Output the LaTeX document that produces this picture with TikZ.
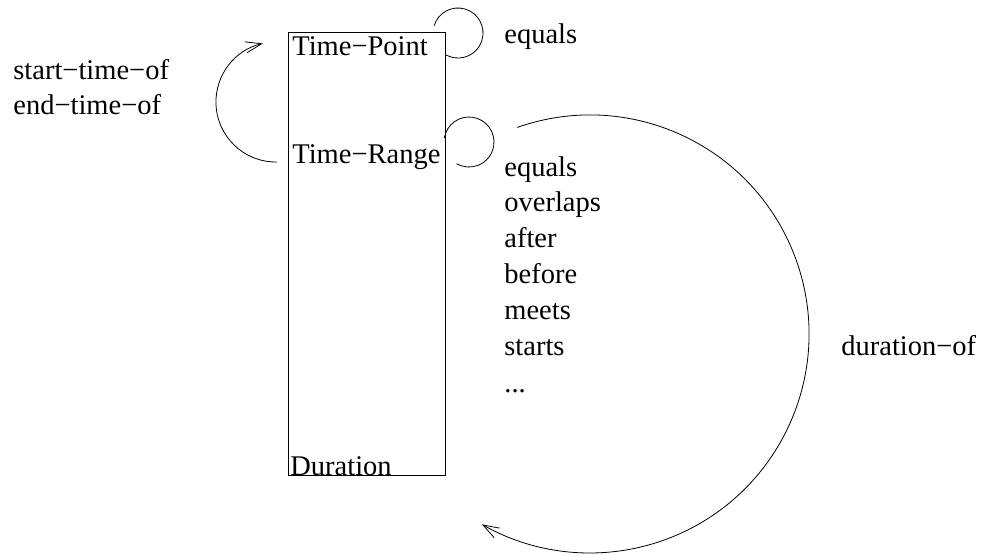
\documentclass[tikz,border=0pt]{standalone}
\usepackage{fontspec}
\setmainfont{Liberation Serif}
\usetikzlibrary{arrows.meta}
\begin{document}
\begin{tikzpicture}[x=1pt, y=-1pt, line width=0.8pt,
    >={Straight Barb[length=16pt,width=11pt]},
    lbl/.style={anchor=base west, inner sep=0pt, font=\fontsize{28.5}{34}\selectfont}]
      \useasboundingbox (0,0) rectangle (982,555);
      \node[draw, inner sep=0pt, minimum width=157, minimum height=443] (box) at (366.5,253.5) {};
      \node[lbl] (tp) at (292,55) {Time−Point};
      \node[lbl] (tr) at (292,163) {Time−Range};
      \node[lbl] (du) at (290,475) {Duration};
      \node[lbl] (eqp) at (504,43) {equals};
      \node[lbl] (st) at (13,79) {start−time−of};
      \node[lbl] (et) at (13,114) {end−time−of};
      \node[lbl] (dof) at (841,355) {duration−of};
      \foreach \w [count=\i from 0] in {equals,overlaps,after,before,meets,starts}
        \node[lbl] (rel\i) at (504,176+35.9*\i) {\w};
      \node[lbl] (more) at (504,392) {...};
      \coordinate (tploop) at (434.1,25.7);
      \coordinate (trloop) at (444.3,138.1);
      \coordinate (trstart) at (277,162);
      \coordinate (durstart) at (517.3,127.4);
      \draw (tploop) arc[start angle=-163, end angle=118, radius=25];
      \draw (trloop) arc[start angle=-171, end angle=120, radius=25];
      \draw[->] (trstart) arc[start angle=89, end angle=257.4, radius=60];
      \draw[->] (durstart) arc[start angle=-109.4, end angle=119.6, radius=219];
    \end{tikzpicture}
\end{document}
